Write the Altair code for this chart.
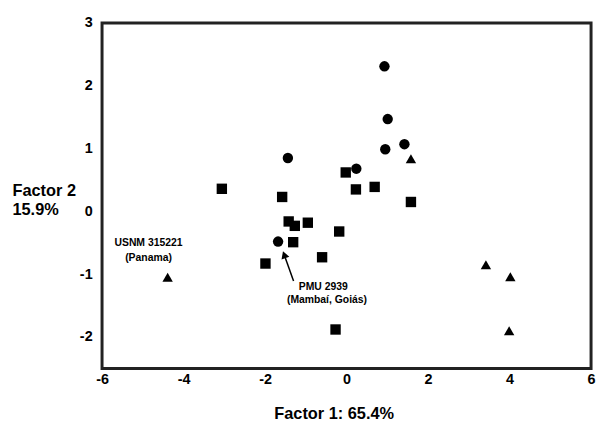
import altair as alt
import pandas as pd

# ---- data ----
circle_x = [0.93, 1.01, 0.95, 1.42, -1.44, 0.24, -1.68]
circle_y = [2.31, 1.47, 0.99, 1.07, 0.85, 0.68, -0.48]

square_x = [-0.02, -3.06, -1.58, 0.23, 0.69, 1.58, -1.42, -1.27, -0.95, -0.18, -1.31, -1.99, -0.60, -0.27]
square_y = [0.62, 0.36, 0.23, 0.35, 0.39, 0.15, -0.16, -0.23, -0.18, -0.32, -0.49, -0.83, -0.73, -1.88]

triangle_x = [1.58, -4.39, 3.42, 4.02, 3.99]
triangle_y = [0.84, -1.05, -0.85, -1.04, -1.90]

label_text = ["USNM 315221", "(Panama)", "PMU 2939", "(Mambaí, Goiás)"]
label_x = [-4.86, -4.86, -0.57, -0.48]
label_y = [-0.51, -0.75, -1.20, -1.41]

arrow_x = [-1.30, -1.53]
arrow_y = [-1.11, -0.69]
head_x = [-1.53]
head_y = [-0.69]

x_ticks = [-6, -4, -2, 0, 2, 4, 6]
y_ticks = [-2, -1, 0, 1, 2, 3]

FONT = "Liberation Sans"
W, H = 494, 349

pts = pd.DataFrame({
    "x": circle_x + square_x + triangle_x,
    "y": circle_y + square_y + triangle_y,
    "group": ["circle"] * len(circle_x) + ["square"] * len(square_x) + ["triangle"] * len(triangle_x),
})
labels = pd.DataFrame({"x": label_x, "y": label_y, "t": label_text})
arrow = pd.DataFrame({"x": arrow_x, "y": arrow_y, "o": [0, 1]})
head = pd.DataFrame({"x": head_x, "y": head_y})

xscale = alt.Scale(domain=[-6, 6], nice=False, zero=False)
yscale = alt.Scale(domain=[-2.5, 3], nice=False, zero=False)

xaxis = alt.Axis(values=x_ticks, title="Factor 1: 65.4%", grid=False, ticks=False, domain=False,
                 labelExpr="'' + datum.value",
                 labelFont=FONT, labelFontWeight="bold", labelFontSize=14.5, labelColor="black",
                 labelPadding=4, labelFlush=False, labelOverlap=False,
                 titleFont=FONT, titleFontWeight="bold", titleFontSize=16.5, titleColor="black",
                 titleX=234, titleY=51, titleAlign="center", titleBaseline="alphabetic")
yaxis = alt.Axis(values=y_ticks, title=["Factor 2", "15.9%"], grid=False, ticks=False, domain=False,
                 labelExpr="'' + datum.value",
                 labelFont=FONT, labelFontWeight="bold", labelFontSize=14.5, labelColor="black",
                 labelPadding=10, labelFlush=False, labelOverlap=False,
                 titleFont=FONT, titleFontWeight="bold", titleFontSize=16.5, titleColor="black",
                 titleAngle=0, titleAlign="left", titleBaseline="alphabetic",
                 titleX=-91, titleY=174, titleLineHeight=20)

points = alt.Chart(pts).mark_point(filled=True, opacity=1, color="black", size=110).encode(
    x=alt.X("x:Q", scale=xscale, axis=xaxis),
    y=alt.Y("y:Q", scale=yscale, axis=yaxis),
    shape=alt.Shape("group:N", scale=alt.Scale(domain=["circle", "square", "triangle"],
                                               range=["circle", "square", "triangle-up"]), legend=None),
)

text = alt.Chart(labels).mark_text(font=FONT, fontWeight="bold", fontSize=10.5, color="black",
                                   align="center", baseline="middle").encode(
    x=alt.X("x:Q", scale=xscale), y=alt.Y("y:Q", scale=yscale), text="t:N")

line = alt.Chart(arrow).mark_line(color="black", strokeWidth=1.5).encode(
    x=alt.X("x:Q", scale=xscale), y=alt.Y("y:Q", scale=yscale), order="o:Q")

arrowhead = alt.Chart(head).mark_point(shape="triangle-up", filled=True, opacity=1, color="black",
                                       size=70, angle=340).encode(
    x=alt.X("x:Q", scale=xscale), y=alt.Y("y:Q", scale=yscale))

chart = alt.layer(points, line, arrowhead, text).properties(
    width=W, height=H,
    background="white",
    autosize=alt.AutoSizeParams(type="none"),
    padding={"left": 95, "top": 13, "right": 5, "bottom": 52},
).configure_view(stroke="#222222", strokeWidth=3)

chart.save("out.html", embed_options={"renderer": "svg", "actions": False})
